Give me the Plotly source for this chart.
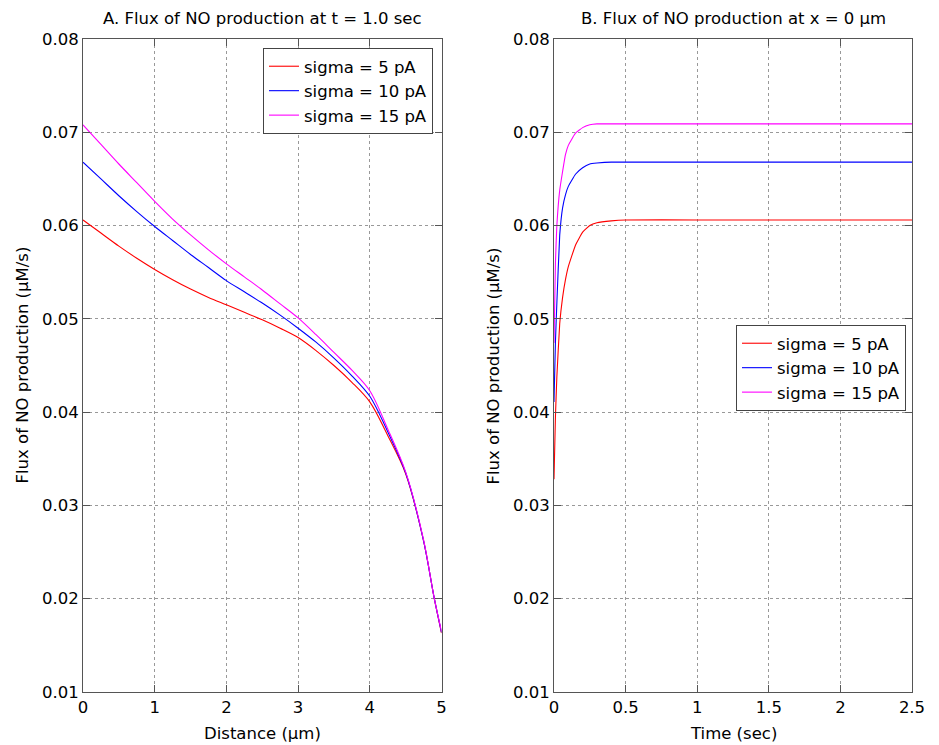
import plotly.graph_objects as go

# ---- Data: panel A (flux vs distance at t = 1.0 s) ----
distance_um = [0, 0.25, 0.5, 0.75, 1, 1.25, 1.5, 1.75, 2, 2.25, 2.5, 2.75, 3,
               3.25, 3.5, 3.75, 4, 4.25, 4.5, 4.75, 4.9, 5]
flux_A_5pA = [0.0606, 0.0592, 0.0578, 0.0565, 0.0553, 0.0542, 0.0532, 0.0523,
              0.0515, 0.0507, 0.0499, 0.0490, 0.0480, 0.0466, 0.0450, 0.0432,
              0.0411, 0.0375, 0.0334, 0.0262, 0.0200, 0.0163]
flux_A_10pA = [0.0668, 0.0650, 0.0632, 0.0615, 0.0599, 0.0584, 0.0569, 0.0555,
               0.0541, 0.0529, 0.0517, 0.0504, 0.0490, 0.0475, 0.0458, 0.0439,
               0.0417, 0.0379, 0.0335, 0.0262, 0.0200, 0.0164]
flux_A_15pA = [0.0708, 0.0687, 0.0666, 0.0646, 0.0626, 0.0607, 0.0590, 0.0574,
               0.0559, 0.0545, 0.0531, 0.0516, 0.0501, 0.0483, 0.0464, 0.0445,
               0.0423, 0.0382, 0.0336, 0.0263, 0.0200, 0.0165]

# ---- Data: panel B (flux vs time at x = 0 um) ----
time_sec = [0, 0.01, 0.02, 0.04, 0.06, 0.08, 0.1, 0.15, 0.2, 0.25, 0.3, 0.4,
            0.5, 1.0, 1.5, 2.0, 2.5]
flux_B_5pA = [0.0328, 0.0395, 0.0438, 0.0495, 0.0523, 0.0542, 0.0556, 0.0579,
              0.0593, 0.0600, 0.0603, 0.0605, 0.0606, 0.0606, 0.0606, 0.0606, 0.0606]
flux_B_10pA = [0.0411, 0.0475, 0.0517, 0.0590, 0.0619, 0.0633, 0.0642, 0.0655,
               0.0662, 0.0666, 0.0667, 0.0668, 0.0668, 0.0668, 0.0668, 0.0668, 0.0668]
flux_B_15pA = [0.0474, 0.0560, 0.0600, 0.0638, 0.0658, 0.0676, 0.0686, 0.0699,
               0.0705, 0.0708, 0.0709, 0.0709, 0.0709, 0.0709, 0.0709, 0.0709, 0.0709]

series_names = ["sigma = 5 pA", "sigma = 10 pA", "sigma = 15 pA"]
series_colors = ["#ff0000", "#0000ff", "#ff00ff"]

titles = ["A. Flux of NO production at t = 1.0 sec",
          "B. Flux of NO production at x = 0 \u00b5m"]
x_titles = ["Distance (\u00b5m)", "Time (sec)"]
y_title = "Flux of NO production (\u00b5M/s)"

# The page body has an 8px margin: size the figure so it ends at the window edge
OFF = 8
W, H = 939 - OFF, 745 - OFF
FONT = "DejaVu Sans, Verdana, sans-serif"
FS = 16.5

fig = go.Figure()

for ys, name, col in zip([flux_A_5pA, flux_A_10pA, flux_A_15pA], series_names, series_colors):
    fig.add_trace(go.Scatter(x=distance_um, y=ys, mode="lines", name=name,
                             line=dict(color=col, width=1.1, shape="spline", smoothing=0.9),
                             xaxis="x", yaxis="y", legend="legend"))
for ys, name, col in zip([flux_B_5pA, flux_B_10pA, flux_B_15pA], series_names, series_colors):
    fig.add_trace(go.Scatter(x=time_sec, y=ys, mode="lines", name=name,
                             line=dict(color=col, width=1.1, shape="spline", smoothing=0.35),
                             xaxis="x2", yaxis="y2", legend="legend2"))

# pixel geometry (window coordinates)
ax_left = [83, 554]
ax_right = [441.5, 912]
y_top, y_bot = 39, 692


def px(x):
    return (x - OFF) / W


def py(y):
    return 1 - (y - OFF) / H


axis_common = dict(
    showline=True, linecolor="#555555", linewidth=1, mirror="ticks",
    ticks="inside", ticklen=7, tickcolor="#555555", tickwidth=1,
    showgrid=True, gridcolor="#999999", griddash="dot", gridwidth=1,
    zeroline=False, automargin=False,
    tickfont=dict(family=FONT, size=FS, color="black"),
)

legend_common = dict(xanchor="right", yanchor="top",
                     bgcolor="white", bordercolor="#444444", borderwidth=1,
                     font=dict(family=FONT, size=FS, color="black"),
                     tracegroupgap=0)

fig.update_layout(
    width=W, height=H,
    margin=dict(l=0, r=0, t=0, b=0),
    paper_bgcolor="white", plot_bgcolor="white",
    template="none",
    font=dict(family=FONT, size=FS, color="black"),
    xaxis=dict(domain=[px(ax_left[0]), px(ax_right[0])], range=[0, 5], dtick=1,
               tick0=0, anchor="y", **axis_common),
    yaxis=dict(domain=[py(y_bot), py(y_top)], range=[0.01, 0.08], dtick=0.01,
               tick0=0.01, tickformat=".2f", anchor="x", **axis_common),
    xaxis2=dict(domain=[px(ax_left[1]), px(ax_right[1])], range=[0, 2.5], dtick=0.5,
                tick0=0, anchor="y2", **axis_common),
    yaxis2=dict(domain=[py(y_bot), py(y_top)], range=[0.01, 0.08], dtick=0.01,
                tick0=0.01, tickformat=".2f", anchor="x2", **axis_common),
    legend=dict(x=px(433), y=py(48), **legend_common),
    legend2=dict(x=px(906), y=py(325), **legend_common),
)

annotations = []
for i in range(2):
    cx = (ax_left[i] + ax_right[i]) / 2
    annotations.append(dict(text=titles[i], x=px(cx), y=py(18), xref="paper", yref="paper",
                            xanchor="center", yanchor="middle", showarrow=False,
                            font=dict(family=FONT, size=FS, color="black")))
    annotations.append(dict(text=x_titles[i], x=px(cx), y=py(733), xref="paper", yref="paper",
                            xanchor="center", yanchor="middle", showarrow=False,
                            font=dict(family=FONT, size=FS, color="black")))
    annotations.append(dict(text=y_title, x=px(ax_left[i] - 61), y=py((y_top + y_bot) / 2),
                            xref="paper", yref="paper", textangle=-90,
                            xanchor="center", yanchor="middle", showarrow=False,
                            font=dict(family=FONT, size=FS, color="black")))
fig.update_layout(annotations=annotations)

fig.write_html("out.html")
